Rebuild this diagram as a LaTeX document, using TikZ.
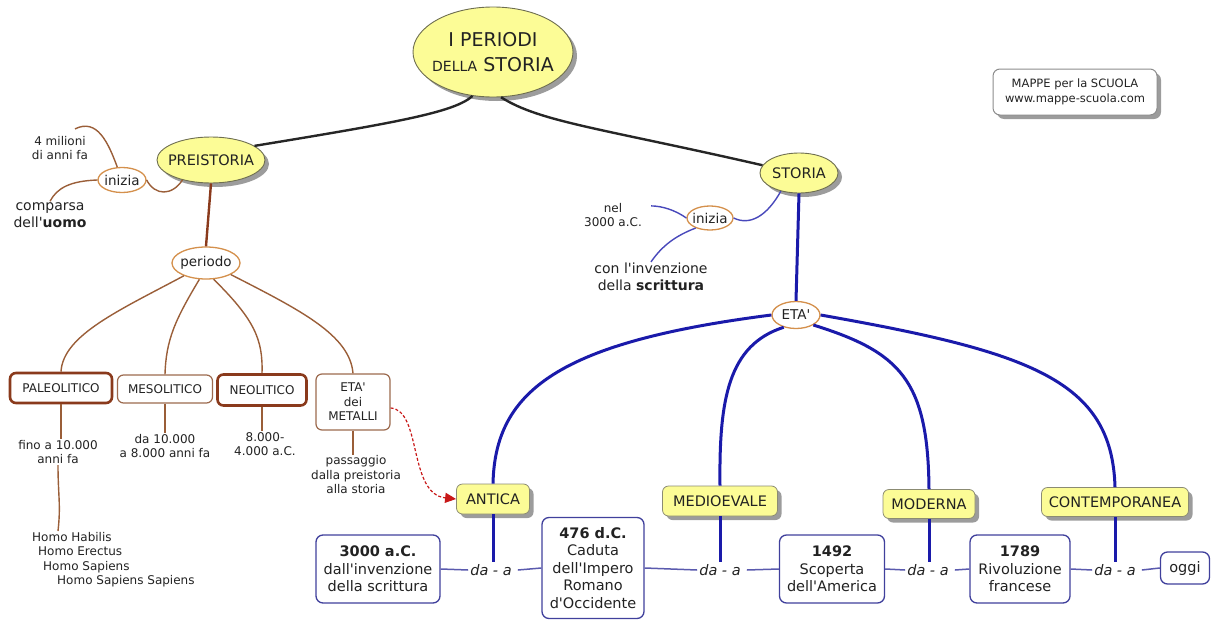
\documentclass[tikz,border=0pt]{standalone}
\usepackage{fontspec}
\setmainfont{DejaVu Sans}[Ligatures=TeXOff]
\usetikzlibrary{shadows,arrows.meta,shapes.geometric}
\definecolor{yel}{HTML}{FCFC96}
\definecolor{ydraw}{HTML}{6E6E50}
\definecolor{shadowc}{HTML}{9C9C9C}
\definecolor{txt}{HTML}{222222}
\definecolor{orangec}{HTML}{D4904C}
\definecolor{browndark}{HTML}{8A3A1C}
\definecolor{brownlight}{HTML}{9C6A4E}
\definecolor{brownline}{HTML}{9A5E38}
\definecolor{bluebox}{HTML}{40409C}
\definecolor{bluethick}{HTML}{1A1AAA}
\definecolor{bluethin}{HTML}{5A5AAE}
\definecolor{redarrow}{HTML}{C81818}
\newcommand\fsz[2]{\fontsize{#1}{#2}\selectfont}
\tikzset{
  yshadow/.style={drop shadow={shadow xshift=4pt,shadow yshift=-4pt,fill=shadowc,opacity=1}},
  yell/.style={ellipse, draw=ydraw, line width=0.9pt, fill=yel, yshadow, inner xsep=-8pt, inner ysep=0pt, align=center, text=txt},
  oell/.style={ellipse, draw=orangec, line width=1.3pt, fill=white, inner xsep=-6pt, inner ysep=0pt, text=txt, font=\fsz{13.5}{16}},
  ybox/.style={rectangle, rounded corners=6pt, draw=ydraw!80, line width=0.8pt, fill=yel, yshadow, inner sep=2pt, text=txt, font=\fsz{14.5}{17}},
  bbox/.style={rectangle, rounded corners=7pt, draw=bluebox, line width=1.3pt, fill=white, inner sep=2pt, align=center, text=txt, font=\fsz{14.5}{17.5}},
  brthick/.style={rectangle, rounded corners=6pt, draw=browndark, line width=2.6pt, fill=white, inner sep=2pt, text=txt, font=\fsz{12}{15}},
  brthin/.style={rectangle, rounded corners=6pt, draw=brownlight, line width=1.2pt, fill=white, inner sep=2pt, align=center, text=txt, font=\fsz{12}{14.5}},
  plain/.style={align=center, text=txt, inner sep=1pt, font=\fsz{12}{14.5}},
  blk/.style={draw=black!85, line width=2.4pt},
  brl/.style={draw=brownline, line width=1.4pt},
  brk/.style={draw=browndark, line width=2.4pt},
  bll/.style={draw=bluethick, line width=3pt},
  blc/.style={draw=bluethick!80, line width=1.4pt},
  blt/.style={draw=bluethin, line width=1.5pt},
  dalabel/.style={text=txt, inner sep=2pt, font=\fsz{14.5}{17}\itshape}
}
\begin{document}
\begin{tikzpicture}[x=1pt,y=-1pt]
\useasboundingbox (0,0) rectangle (1218,621);

% --- top level
\node[yell, minimum width=160pt, minimum height=90pt, font=\fsz{19}{25}] (title) at (493,52)
  {I PERIODI\\{\fsz{14}{25}DELLA} STORIA};
\node[yell, minimum width=108pt, minimum height=46pt, font=\fsz{14.5}{17}] (pre) at (211,160) {PREISTORIA};
\node[yell, minimum width=78pt, minimum height=40pt, font=\fsz{14.5}{17}] (storia) at (799,173) {STORIA};
\node[rectangle, rounded corners=7pt, draw=black!45, line width=1pt, fill=white, yshadow,
      minimum width=164pt, minimum height=46pt, align=center, text=txt, font=\fsz{11.5}{14.5}] (mappe) at (1075,92)
  {MAPPE per la SCUOLA\\www.mappe-scuola.com};

% --- preistoria side
\node[oell, minimum width=48pt, minimum height=25pt] (iniz1) at (122,180) {inizia};
\node[plain] (mil) at (60,148) {4 milioni\\di anni fa};
\node[plain, font=\fsz{14}{17}] (comp) at (50,215) {comparsa\\dell'\textbf{uomo}};
\node[oell, minimum width=68pt, minimum height=32pt] (periodo) at (206,263) {periodo};

\node[brthick, minimum width=102pt, minimum height=30pt] (paleo) at (61,388) {PALEOLITICO};
\node[brthin, minimum width=95pt, minimum height=28pt] (meso) at (165,389) {MESOLITICO};
\node[brthick, minimum width=89pt, minimum height=31pt] (neo) at (262,390) {NEOLITICO};
\node[brthin, minimum width=74pt, minimum height=56pt] (metal) at (353,402) {ETA'\\dei\\METALLI};

\node[plain] (fino) at (58,452) {fino a 10.000\\anni fa};
\node[plain] (da10) at (165,446) {da 10.000\\a 8.000 anni fa};
\node[plain] (n8000) at (265,444) {8.000-\\4.000 a.C.};
\node[plain] (pass) at (356,475) {passaggio\\dalla preistoria\\alla storia};
\node[plain, align=left, anchor=north west] (homo) at (31,531)
  {Homo Habilis\\\hspace*{6pt}Homo Erectus\\\hspace*{11pt}Homo Sapiens\\\hspace*{25pt}Homo Sapiens Sapiens};

% --- storia side
\node[oell, minimum width=46pt, minimum height=24pt] (iniz2) at (710,218) {inizia};
\node[plain] (nel) at (613,215) {nel\\3000 a.C.};
\node[plain, font=\fsz{14}{17}] (con) at (651,277) {con l'invenzione\\della \textbf{scrittura}};
\node[oell, minimum width=48pt, minimum height=27pt] (eta) at (796,315) {ETA'};

\node[ybox, minimum width=73pt, minimum height=30pt] (antica) at (493,499) {ANTICA};
\node[ybox, minimum width=115pt, minimum height=30pt] (medio) at (720,501) {MEDIOEVALE};
\node[ybox, minimum width=92pt, minimum height=29pt] (moderna) at (929,504) {MODERNA};
\node[ybox, minimum width=147pt, minimum height=29pt] (contemp) at (1115,502) {CONTEMPORANEA};

\node[bbox, minimum width=124pt, minimum height=68pt] (b3000) at (378,569) {\textbf{3000 a.C.}\\dall'invenzione\\della scrittura};
\node[bbox, minimum width=102pt, minimum height=101pt] (b476) at (593,568) {\textbf{476 d.C.}\\Caduta\\dell'Impero\\Romano\\d'Occidente};
\node[bbox, minimum width=105pt, minimum height=68pt] (b1492) at (832,569) {\textbf{1492}\\Scoperta\\dell'America};
\node[bbox, minimum width=100pt, minimum height=68pt] (b1789) at (1020,569) {\textbf{1789}\\Rivoluzione\\francese};
\node[bbox, minimum width=49pt, minimum height=32pt] (oggi) at (1185,568) {oggi};

\node[dalabel] (da1) at (491,570) {da - a};
\node[dalabel] (da2) at (720,570) {da - a};
\node[dalabel] (da3) at (928,570) {da - a};
\node[dalabel] (da4) at (1115,570) {da - a};

\coordinate (milend) at ([xshift=15pt,yshift=6pt]mil.north);
\coordinate (nelend) at ([xshift=8pt,yshift=-4pt]nel.north east);

% --- connectors: title
\draw[blk] (title.-115) .. controls (455,112) and (400,122) .. (pre.18);
\draw[blk] (title.-80) .. controls (540,122) and (600,128) .. (storia.168);

% --- preistoria connectors
\draw[brl] (pre.-145) .. controls (172,196) and (155,196) .. (iniz1.east);
\draw[brl] (iniz1.110) .. controls (108,142) and (97,118) .. (milend);
\draw[brl] (iniz1.west) .. controls (70,181) and (57,188) .. (comp.north);
\draw[brk] (pre.south) -- (periodo.north);
\draw[brl] (periodo.-150) .. controls (120,310) and (63,335) .. (paleo.north);
\draw[brl] (periodo.-112) .. controls (175,320) and (166,340) .. (meso.north);
\draw[brl] (periodo.-65) .. controls (255,320) and (263,340) .. (neo.north);
\draw[brl] (periodo.-25) .. controls (300,310) and (350,335) .. (metal.north);
\draw[brl] (paleo.south) -- (fino.north -| paleo.south);
\draw[brl] (fino.south) .. controls (58,495) and (61,505) .. (homo.north west -| fino.south);
\draw[brl] (meso.south) -- (da10.north -| meso.south);
\draw[brl] (neo.south) -- (n8000.north -| neo.south);
\draw[brl] (metal.south) -- (pass.north -| metal.south);
\draw[redarrow, line width=1.2pt, dash pattern=on 3pt off 2pt, -{Triangle[length=11pt,width=10pt]}]
  (metal.east) ++(0,6) .. controls (422,410) and (408,494) .. (antica.west);

% --- storia connectors
\draw[blc] (storia.-135) .. controls (767,216) and (750,226) .. (iniz2.east);
\draw[blc] (iniz2.west) .. controls (675,210) and (662,206) .. (nelend);
\draw[blc] (iniz2.-145) .. controls (675,236) and (662,246) .. (con.north);
\draw[bll] (storia.south) -- (eta.north);
\draw[bll] (eta.west) .. controls (560,342) and (495,390) .. (antica.north);
\draw[bll] (eta.-135) .. controls (728,345) and (719,400) .. (medio.north);
\draw[bll] (eta.-30) .. controls (900,352) and (928,380) .. (moderna.north);
\draw[bll] (eta.east) .. controls (1030,352) and (1112,380) .. (contemp.north);

\draw[bll] (antica.south) -- (antica.south |- da1.north);
\draw[bll] (medio.south) -- (medio.south |- da2.north);
\draw[bll] (moderna.south) -- (moderna.south |- da3.north);
\draw[bll] (contemp.south) -- (contemp.south |- da4.north);

\draw[blt] (b3000.east) -- (da1.west);
\draw[blt] (da1.east) ++(4,0) -- (b476.west);
\draw[blt] (b476.east) -- (da2.west);
\draw[blt] (da2.east) ++(4,0) -- (b1492.west);
\draw[blt] (b1492.east) -- (da3.west);
\draw[blt] (da3.east) ++(4,0) -- (b1789.west);
\draw[blt] (b1789.east) -- (da4.west);
\draw[blt] (da4.east) ++(4,0) -- (oggi.west);
\end{tikzpicture}
\end{document}
